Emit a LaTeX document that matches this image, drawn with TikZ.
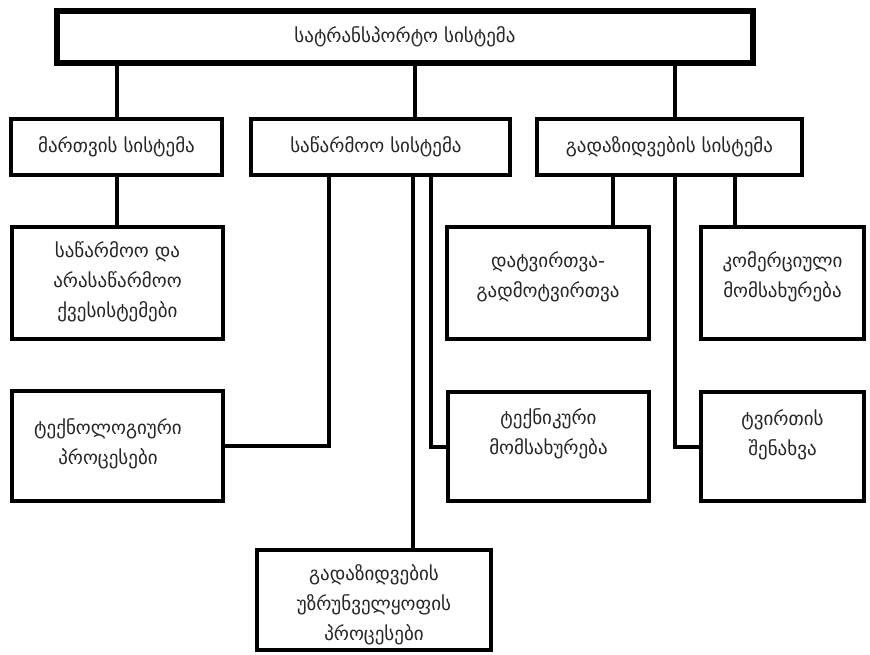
\documentclass[tikz,border=0pt]{standalone}
\usepackage{fontspec}
\setmainfont{DejaVu Sans}
\begin{document}
\begin{tikzpicture}[x=1pt,y=-1pt,
  box/.style={draw=black,line width=4.5pt,fill=white,rectangle,inner sep=0pt,line join=miter},
  topbox/.style={box,line width=6pt},
  txt/.style={align=center,font=\fontsize{19}{30}\selectfont,inner sep=0pt,text=black!85},
  conn/.style={draw=black,line width=4pt,line join=miter}]
\useasboundingbox[fill=white] (0,0) rectangle (870,654);
% boxes
\node[topbox,minimum width=696pt,minimum height=52pt] (top) at (405,37) {};
\node[box,minimum width=211pt,minimum height=56pt] (b1) at (116.5,147) {};
\node[box,minimum width=259pt,minimum height=56pt] (b2) at (380.5,147) {};
\node[box,minimum width=265pt,minimum height=56pt] (b3) at (669.5,147) {};
\node[box,minimum width=211pt,minimum height=112pt] (b4) at (117.5,283) {};
\node[box,minimum width=211pt,minimum height=110pt] (b5) at (117.5,446) {};
\node[box,minimum width=202pt,minimum height=112pt] (b6) at (548,283) {};
\node[box,minimum width=201pt,minimum height=109pt] (b7) at (548.5,446.5) {};
\node[box,minimum width=163pt,minimum height=112pt] (b8) at (782.5,283) {};
\node[box,minimum width=163pt,minimum height=109pt] (b9) at (782.5,446.5) {};
\node[box,minimum width=234pt,minimum height=100pt] (b10) at (374,600) {};
% connectors
\draw[conn] ([xshift=0.5pt]b1.north |- top.south) -- ([xshift=0.5pt]b1.north);
\draw[conn] ([xshift=34.5pt]b2.north |- top.south) -- ([xshift=34.5pt]b2.north);
\draw[conn] ([xshift=5.5pt]b3.north |- top.south) -- ([xshift=5.5pt]b3.north);
\draw[conn] ([xshift=0.5pt]b1.south) -- ([xshift=0.5pt]b1.south |- b4.north);
\draw[conn] ([xshift=-51.5pt]b2.south) |- (b5.east);
\draw[conn] ([xshift=32.5pt]b2.south) -- ([xshift=32.5pt]b2.south |- b10.north);
\draw[conn] ([xshift=50.5pt]b2.south) |- (b7.west);
\draw[conn] ([xshift=-56.5pt]b3.south) -- ([xshift=-56.5pt]b3.south |- b6.north);
\draw[conn] ([xshift=5.5pt]b3.south) |- (b9.west);
\draw[conn] ([xshift=65.5pt]b3.south) -- ([xshift=65.5pt]b3.south |- b8.north);
% texts
\node[txt] (t0) at (405,37) {სატრანსპორტო სისტემა};
\node[txt] (t1) at (116.5,147) {მართვის სისტემა};
\node[txt] (t2) at (376,147) {საწარმოო სისტემა};
\node[txt] (t3) at (669.5,147) {გადაზიდვების სისტემა};
\node[txt] (t4) at (117.5,282) {საწარმოო და\\არასაწარმოო\\ქვესისტემები};
\node[txt] (t5) at (108,444) {ტექნოლოგიური\\პროცესები};
\node[txt] (t6) at (548,277) {დატვირთვა-\\გადმოტვირთვა};
\node[txt] (t7) at (548.5,434) {ტექნიკური\\მომსახურება};
\node[txt] (t8) at (782.5,277) {კომერციული\\მომსახურება};
\node[txt] (t9) at (782.5,435) {ტვირთის\\შენახვა};
\node[txt] (t10) at (374,605) {გადაზიდვების\\უზრუნველყოფის\\პროცესები};
\end{tikzpicture}
\end{document}
